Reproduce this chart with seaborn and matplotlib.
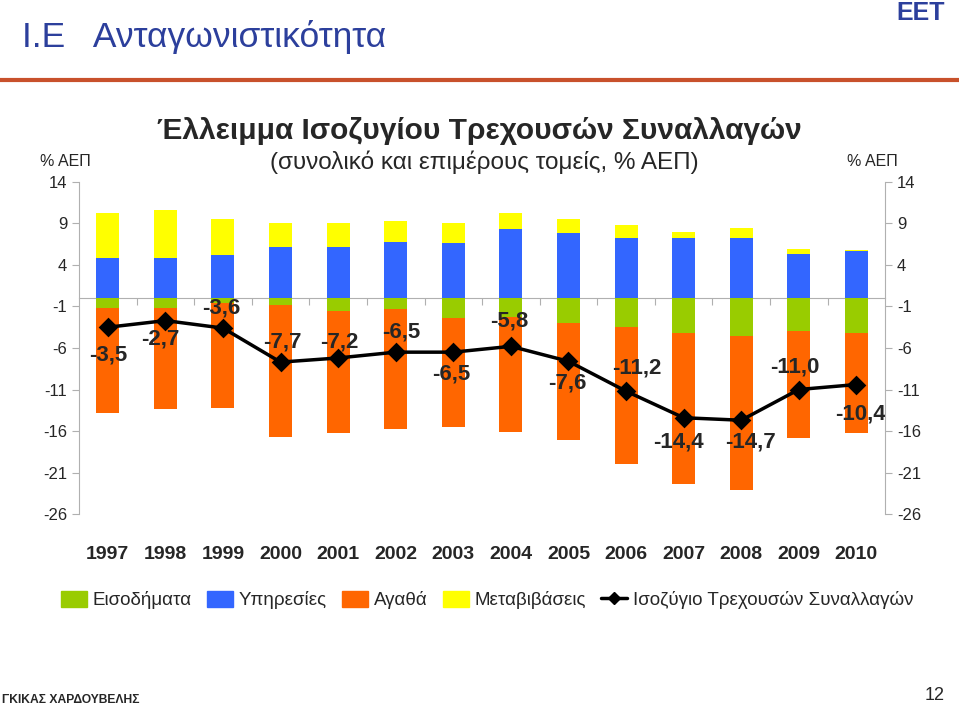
import numpy as np
import pandas as pd
import matplotlib.pyplot as plt
from matplotlib.lines import Line2D
import seaborn as sns

# data (% of GDP)
years = [str(y) for y in range(1997, 2011)]
income = [-1.2, -1.2, -0.6, -0.8, -1.5, -1.3, -2.4, -2.3, -3.0, -3.5, -4.2, -4.5, -3.9, -4.2]
services = [4.8, 4.9, 5.2, 6.2, 6.2, 6.8, 6.7, 8.3, 7.9, 7.2, 7.3, 7.2, 5.3, 5.7]
goods = [-12.6, -12.1, -12.6, -15.9, -14.7, -14.5, -13.1, -13.8, -14.1, -16.5, -18.2, -18.6, -13.0, -12.0]
transfers = [5.5, 5.7, 4.4, 2.8, 2.8, 2.5, 2.3, 2.0, 1.6, 1.6, 0.7, 1.2, 0.6, 0.1]
balance = [-3.5, -2.7, -3.6, -7.7, -7.2, -6.5, -6.5, -5.8, -7.6, -11.2, -14.4, -14.7, -11.0, -10.4]
yticks = [14, 9, 4, -1, -6, -11, -16, -21, -26]

# label offsets in pixels from each marker
label_offsets = [(0, -28), (-5, -18), (-2, 20), (2, 20), (1, 16), (6, 20), (-2, -22),
                 (-2, 25), (-1, -22), (11, 23), (-5, -24), (9, -22), (-4, 23), (4, -29)]

GREEN, BLUE, ORANGE, YELLOW = "#99cc00", "#3366ff", "#ff6600", "#ffff00"

df = pd.DataFrame({"year": years, "income": income, "services": services,
                   "goods": goods, "transfers": transfers, "balance": balance})
df["pos_total"] = df["services"] + df["transfers"]
df["neg_total"] = df["income"] + df["goods"]

sns.set_style("white")
plt.rcParams["font.family"] = ["Liberation Sans", "DejaVu Sans"]
plt.rcParams["axes.unicode_minus"] = False

fig = plt.figure(figsize=(9.59, 7.10), dpi=100)
ax = fig.add_axes([0.0824, 0.276, 0.8406, 0.4677])

bar_kw = dict(x="year", width=0.4, saturation=1, errorbar=None, linewidth=0, ax=ax)
sns.barplot(data=df, y="pos_total", color=YELLOW, **bar_kw)
sns.barplot(data=df, y="services", color=BLUE, **bar_kw)
sns.barplot(data=df, y="neg_total", color=ORANGE, **bar_kw)
sns.barplot(data=df, y="income", color=GREEN, **bar_kw)
sns.pointplot(data=df, x="year", y="balance", color="black", markers="D",
              markersize=8, linewidth=2.5, errorbar=None, ax=ax)

for i, (v, (dx, dy)) in enumerate(zip(balance, label_offsets)):
    ax.annotate(f"{v:.1f}".replace(".", ","), (i, v), xytext=(dx, dy),
                textcoords="offset pixels", ha="center", va="center",
                fontsize=16, fontweight="bold", zorder=5)

ax.set_xlim(-0.5, 13.5)
ax.set_ylim(-26, 14)
ax.set_yticks(yticks, labels=[str(t) for t in yticks])
ax.set_xlabel("")
ax.set_ylabel("")
ax.tick_params(axis="x", length=0, pad=23, labelsize=14)
for lab in ax.get_xticklabels():
    lab.set_fontweight("bold")
ax.tick_params(axis="y", left=True, length=5, color="#b0b0b0", labelsize=12)
for s in ["top", "bottom", "right"]:
    ax.spines[s].set_visible(False)
ax.spines["left"].set_color("#b0b0b0")

# category axis crossing at zero
zero = ax.secondary_xaxis(26 / 40)
zero.set_alignment("bottom")
zero.set_xticks(np.arange(0.5, 13, 1.0), labels=[])
zero.tick_params(length=5, color="#b0b0b0", labelbottom=False, labeltop=False)
zero.spines["bottom"].set_color("#b0b0b0")

ax2 = ax.twinx()
ax2.set_ylim(-26, 14)
ax2.set_yticks(yticks, labels=[str(t) for t in yticks])
ax2.tick_params(axis="y", right=True, length=5, color="#b0b0b0", labelsize=12)
for s in ["top", "bottom", "left"]:
    ax2.spines[s].set_visible(False)
ax2.spines["right"].set_color("#b0b0b0")

fig.text(0.068, 0.772, "% ΑΕΠ", fontsize=11.5, ha="center", va="center")
fig.text(0.91, 0.772, "% ΑΕΠ", fontsize=11.5, ha="center", va="center")

fig.text(0.5, 0.815, "Έλλειμμα Ισοζυγίου Τρεχουσών Συναλλαγών", fontsize=21.5,
         fontweight="bold", ha="center", va="center")
fig.text(0.505, 0.772, "(συνολικό και επιμέρους τομείς, % ΑΕΠ)", fontsize=17.5,
         ha="center", va="center")

fig.text(0.023, 0.948, "I.E   Ανταγωνιστικότητα", fontsize=25.5, color="#2c3f9c",
         va="center")
fig.text(0.985, 0.982, "EET", fontsize=18, fontweight="bold", color="#2c3f9c",
         ha="right", va="center")
fig.add_artist(Line2D([0, 1], [0.887, 0.887], transform=fig.transFigure,
                      color="#c8512b", linewidth=3))
fig.text(0.002, 0.014, "ΓΚΙΚΑΣ ΧΑΡΔΟΥΒΕΛΗΣ", fontsize=8.7, fontweight="bold", va="center")
fig.text(0.985, 0.02, "12", fontsize=13, ha="right", va="center")

handles = [plt.Rectangle((0, 0), 1, 1, color=c) for c in (GREEN, BLUE, ORANGE, YELLOW)]
handles.append(Line2D([], [], color="black", marker="D", markersize=6, linewidth=2.5))
labels = ["Εισοδήματα", "Υπηρεσίες", "Αγαθά", "Μεταβιβάσεις", "Ισοζύγιο Τρεχουσών Συναλλαγών"]
fig.legend(handles, labels, loc="center", bbox_to_anchor=(0.508, 0.155), ncol=5,
           frameon=False, handlelength=1.4, handleheight=1.0, handletextpad=0.3,
           columnspacing=0.8, prop={"size": 13.5})

fig.savefig("out.png", dpi=100)
